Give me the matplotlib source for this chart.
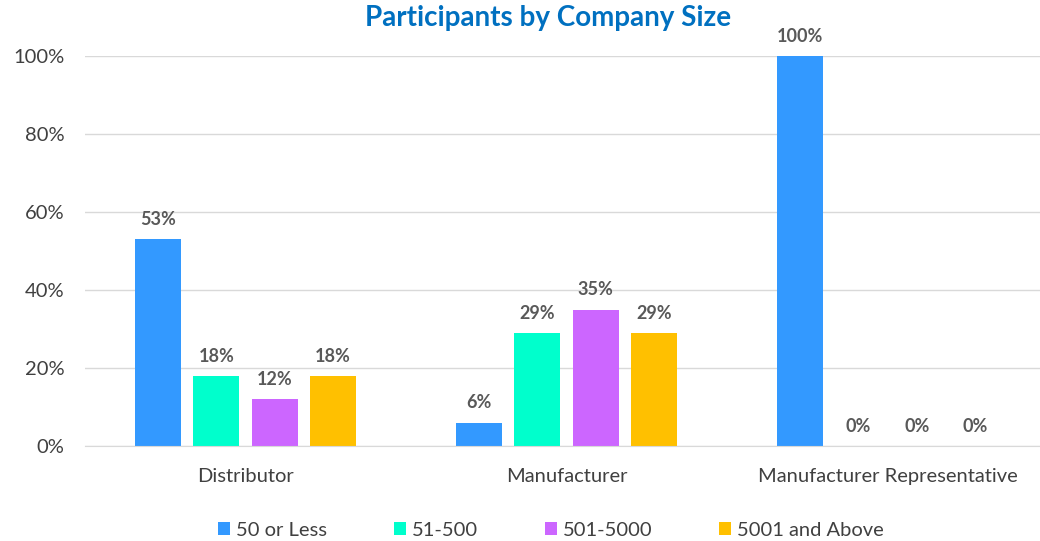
import numpy as np
from matplotlib import pyplot as plt

categories = ["Distributor", "Manufacturer", "Manufacturer Representative"]
series_names = ["50 or Less", "51-500", "501-5000", "5001 and Above"]
small = [0.53, 0.06, 1.00]
mid = [0.18, 0.29, 0.00]
large = [0.12, 0.35, 0.00]
xlarge = [0.18, 0.29, 0.00]
y_ticks = [0, 0.2, 0.4, 0.6, 0.8, 1.0]

colors = ["#3399FF", "#00FFCC", "#CC66FF", "#FFC000"]
plt.rcParams['font.family'] = ['Lato', 'DejaVu Sans']

fig = plt.figure(figsize=(10.4, 5.41), dpi=100)
ax = fig.add_axes([85 / 1040, 1 - 446 / 541, 1 - 85 / 1040, (446 - 56) / 541])

x = np.arange(len(categories))
step = 0.182
width = 0.143
for i, (name, vals) in enumerate(zip(series_names, [small, mid, large, xlarge])):
    pos = x + (i - 1.5) * step
    bars = ax.bar(pos, vals, width, color=colors[i], label=name, zorder=3)
    for b, v in zip(bars, vals):
        ax.annotate(f"{v:.0%}", (b.get_x() + b.get_width() / 2, v),
                    xytext=(0, 8), textcoords="offset points",
                    ha="center", va="bottom", fontsize=13, fontweight="bold",
                    color="#595959", annotation_clip=False)

ax.set_xlim(-0.5, 2.475)
ax.set_ylim(0, 1)
ax.set_yticks(y_ticks)
ax.set_yticklabels([f"{t:.0%}" for t in y_ticks])
ax.set_xticks(x)
ax.set_xticklabels(categories)
ax.tick_params(axis="both", length=0, labelsize=14.5, colors="#404040")
ax.tick_params(axis="y", pad=15)
ax.tick_params(axis="x", pad=16)
ax.grid(axis="y", color="#D9D9D9", linewidth=1, zorder=0)
for side in ["top", "right", "left"]:
    ax.spines[side].set_visible(False)
ax.spines["bottom"].set_color("#D9D9D9")
ax.spines["bottom"].set_zorder(4)

fig.text(548 / 1040, 1 - 18 / 541, "Participants by Company Size", ha="center",
         va="center", fontsize=20, fontweight="bold", color="#0070C0")

fig.legend(loc="center", bbox_to_anchor=(551 / 1040, 1 - 530 / 541), ncol=4,
           frameon=False, fontsize=14.5, handlelength=0.6, handleheight=0.6,
           handletextpad=0.3, columnspacing=3.3, labelcolor="#404040")

plt.savefig("out.png")
